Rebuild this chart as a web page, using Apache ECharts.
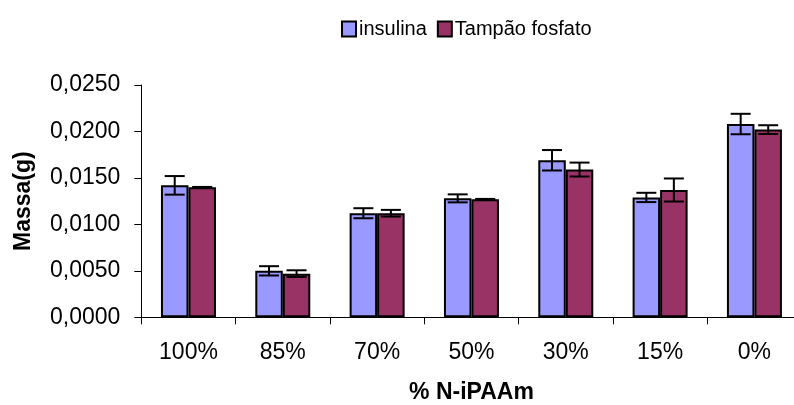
<!DOCTYPE html>
<html>
<head>
<meta charset="utf-8">
<script src="https://cdn.jsdelivr.net/npm/echarts@6/dist/echarts.min.js"></script>
<style>
html,body{margin:0;padding:0;background:#fff;}
#chart{width:794px;height:405px;}
</style>
</head>
<body>
<div id="chart"></div>
<script>
const categories = ['100%', '85%', '70%', '50%', '30%', '15%', '0%'];
const insulina = [0.0142, 0.0050, 0.0112, 0.0128, 0.0169, 0.0129, 0.0208];
const insulinaErr = [0.0010, 0.0005, 0.00054, 0.00043, 0.0011, 0.0005, 0.0011];
const tampao = [0.0140, 0.0047, 0.0112, 0.0127, 0.0159, 0.0137, 0.0202];
const tampaoErr = [0.00003, 0.00036, 0.00036, 0.00004, 0.00075, 0.00124, 0.00047];
const seriesNames = ['insulina', 'Tampão fosfato'];
const yTicks = { min: 0, max: 0.025, interval: 0.005 };

const FONT = 'Liberation Sans, Arial, sans-serif';
const BAR_W = 27.5;

function errData(vals, errs) {
  return vals.map((v, i) => [i, v, errs[i]]);
}
function errRender(offset) {
  return function (params, api) {
    const idx = api.value(0);
    const v = api.value(1);
    const e = api.value(2);
    const hi = api.coord([idx, v + e]);
    const lo = api.coord([idx, v - e]);
    const x = hi[0] + offset;
    const cap = 10;
    const style = { stroke: '#000', lineWidth: 2 };
    return {
      type: 'group',
      children: [
        { type: 'line', shape: { x1: x, y1: hi[1], x2: x, y2: lo[1] }, style },
        { type: 'line', shape: { x1: x - cap, y1: hi[1], x2: x + cap, y2: hi[1] }, style },
        { type: 'line', shape: { x1: x - cap, y1: lo[1], x2: x + cap, y2: lo[1] }, style }
      ]
    };
  };
}

const chart = echarts.init(document.getElementById('chart'));
chart.setOption({
  animation: false,
  backgroundColor: '#fff',
  textStyle: { fontFamily: FONT },
  legend: {
    data: seriesNames,
    left: 336,
    top: 14,
    icon: 'rect',
    itemWidth: 14,
    itemHeight: 15,
    itemGap: 10,
    textStyle: { fontFamily: FONT, fontSize: 20, color: '#000', padding: [0, 0, 0, -2] }
  },
  grid: { left: 141.3, width: 660.3, top: 85, height: 232.3, containLabel: false, outerBoundsMode: 'none' },
  xAxis: {
    type: 'category',
    data: categories,
    name: '% N-iPAAm',
    nameLocation: 'middle',
    nameGap: 64,
    nameTextStyle: { fontFamily: FONT, fontSize: 23, fontWeight: 'bold', color: '#000' },
    axisLine: { lineStyle: { color: '#000', width: 1 } },
    axisTick: { show: true, length: 7, lineStyle: { color: '#000' } },
    axisLabel: { fontFamily: FONT, fontSize: 23, color: '#000', margin: 24 }
  },
  yAxis: {
    type: 'value',
    min: yTicks.min,
    max: yTicks.max,
    interval: yTicks.interval,
    name: 'Massa(g)',
    nameLocation: 'middle',
    nameGap: 106,
    nameTextStyle: { fontFamily: FONT, fontSize: 23, fontWeight: 'bold', color: '#000' },
    splitLine: { show: false },
    axisLine: { show: true, lineStyle: { color: '#000', width: 1 } },
    axisTick: { show: true, length: 7, lineStyle: { color: '#000' } },
    axisLabel: {
      fontFamily: FONT, fontSize: 23, color: '#000', margin: 21,
      formatter: v => v.toFixed(4).replace('.', ',')
    }
  },
  series: [
    {
      name: seriesNames[0], type: 'bar', data: insulina, barWidth: BAR_W, barGap: '0%',
      itemStyle: { color: '#9999FF', borderColor: '#000', borderWidth: 2 }
    },
    {
      name: seriesNames[1], type: 'bar', data: tampao, barWidth: BAR_W, barGap: '0%',
      itemStyle: { color: '#993366', borderColor: '#000', borderWidth: 2 }
    },
    {
      type: 'custom', name: 'errIns', data: errData(insulina, insulinaErr),
      renderItem: errRender(-BAR_W / 2), z: 10, encode: { x: 0, y: 1 }
    },
    {
      type: 'custom', name: 'errTamp', data: errData(tampao, tampaoErr),
      renderItem: errRender(BAR_W / 2), z: 10, encode: { x: 0, y: 1 }
    }
  ]
});
</script>
</body>
</html>
